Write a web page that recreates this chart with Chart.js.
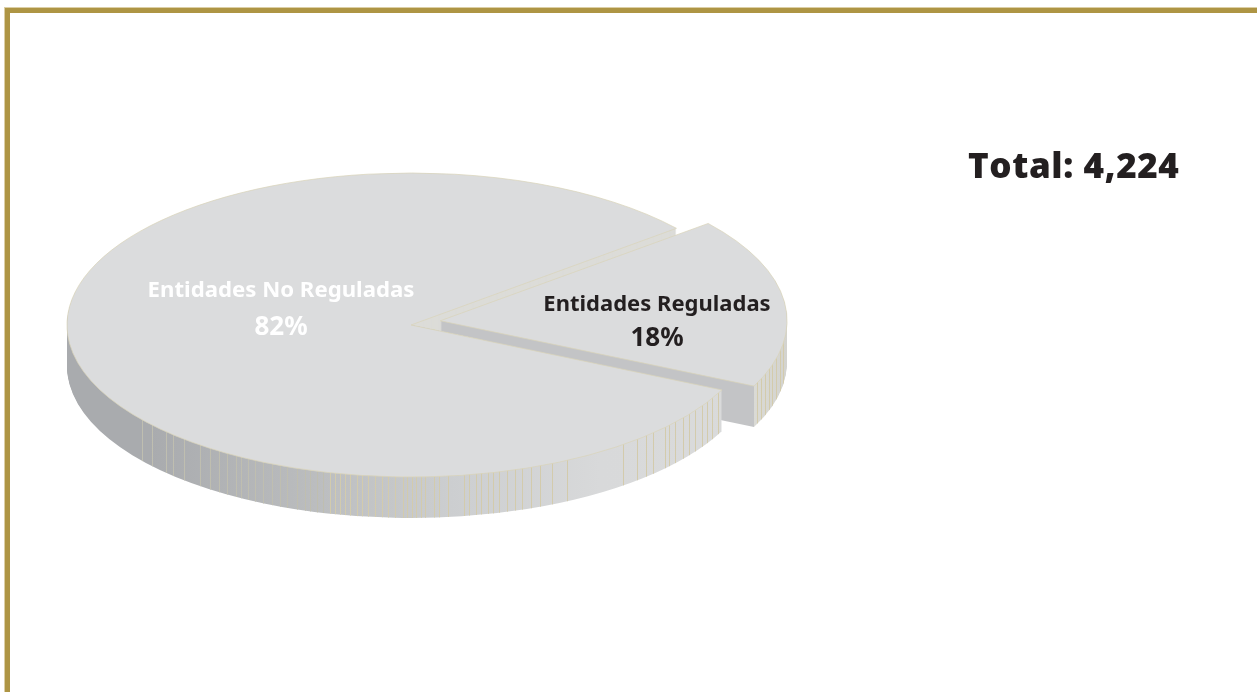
<!DOCTYPE html>
<html lang="es">
<head>
<meta charset="utf-8">
<title>Entidades</title>
<script src="https://cdn.jsdelivr.net/npm/chart.js@4"></script>
<style>
    html, body { margin: 0; padding: 0; background: #fff; }
    body { width: 1257px; height: 692px; position: relative; overflow: hidden; }
    #frame {
        position: absolute; left: 5px; top: 8px; right: -10px; bottom: -10px;
        border-left: 5px solid #ae9544; border-top: 5px solid #ae9544;
        box-shadow: -1px -1px 0 #dccfa6;
    }
    canvas { position: absolute; left: 0; top: 0; }
    .label {
        position: absolute; transform: translateX(-50%); white-space: nowrap;
        font-family: "Noto Sans", sans-serif; font-weight: 700; text-align: center;
    }
    .label span { display: block; font-size: 26px; }
    #total {
        position: absolute; left: 968px; top: 143px; white-space: nowrap; color: #231f20;
        font-family: "Open Sans", sans-serif; font-weight: 800; font-size: 35px; line-height: 44px;
        letter-spacing: 0.6px;
    }
</style>
</head>
<body>
<div id="frame"></div>
<canvas id="myChart" width="1257" height="692"></canvas>
<div id="total"></div>
<script>
const categories = ['Entidades Reguladas', 'Entidades No Reguladas'];
const values = [18, 82];
const totalValue = '4,224';

// where the flattened pie sits on the page
const CX = 411, CY = 325, RX = 344, RY = 152, DEPTH = 41;
// vertical seams of the rim (page x)
const seamsMain = [142, 152, 166, 173, 184, 200, 210, 219, 227, 236, 241, 248, 255, 263, 272, 280, 287, 297, 305, 310, 317, 323, 330, 335, 340, 345, 350, 357, 362, 368, 375, 382, 388, 395, 403,
    407, 412, 416, 421, 425, 434, 439, 448, 464, 469, 476, 481, 488, 493, 499, 507, 515, 522, 531, 540, 552, 567, 623, 637, 646, 653, 665, 669, 675, 683, 689, 695, 702, 707, 712, 718, 723];
const seamsSlice = [757, 761, 765, 769, 772, 776, 780, 783];

function rimFill(ctx, toX, stops) {
    const g = ctx.createLinearGradient(toX(67), 0, toX(787), 0);
    stops.forEach(([x, color]) => g.addColorStop((x - 67) / 720, color));
    return g;
}

function seamFill(ctx, toX, seams) {
    const g = ctx.createLinearGradient(toX(67), 0, toX(787), 0);
    seams.forEach((x) => {
        const color = x < 330 ? '#bfbeb0' : '#d3cbac';
        const a = (x - 67) / 720, b = (x + 0.8 - 67) / 720;
        g.addColorStop(a, 'rgba(212,204,170,0)');
        g.addColorStop(a, color);
        g.addColorStop(b, color);
        g.addColorStop(b, 'rgba(212,204,170,0)');
    });
    return g;
}

function drawArc(arc, ctx, fill, border) {
    const keep = arc.options;
    arc.options = border ? keep : Object.create(keep, {
        backgroundColor: { value: fill },
        borderWidth: { value: 0 }
    });
    arc.draw(ctx);
    arc.options = keep;
}

function stamps(arc, ctx, fill) {
    for (let d = DEPTH; d >= 1; d--) {
        ctx.save();
        ctx.translate(0, d / (RY / arc.outerRadius));
        drawArc(arc, ctx, fill);
        ctx.restore();
    }
}

const flatPie = {
    id: 'flatPie',
    beforeDatasetsDraw(chart) {
        const ctx = chart.ctx;
        const [slice, main] = chart.getDatasetMeta(0).data;
        const sx = RX / main.outerRadius, sy = RY / main.outerRadius;
        const mid = (slice.startAngle + slice.endAngle) / 2;
        const sliceDx = Math.cos(mid) * slice.options.offset / 4;
        const mainX = (x) => (x - CX) / sx + main.x;
        const sliceX = (x) => mainX(x) - sliceDx;
        const lowerCut = Math.atan2(sy * Math.sin(main.startAngle), sx * Math.cos(main.startAngle));

        const toPage = () => {
            ctx.translate(CX, CY);
            ctx.scale(sx, sy);
            ctx.translate(-main.x, -main.y);
        };
        const clipCut = (below) => {
            ctx.translate(CX, CY);
            ctx.rotate(lowerCut);
            ctx.beginPath();
            ctx.rect(-3000, below ? 0 : -3000, 6000, 3000);
            ctx.rotate(-lowerCut);
            ctx.translate(-CX, -CY);
            ctx.clip();
        };
        const nudge = () => ctx.translate(0, -2.6 / sy);

        // the cut of the main pie that faces the slice is plain
        ctx.save();
        clipCut(false);
        toPage();
        stamps(main, ctx, '#dcdcd8');
        ctx.restore();

        // slice walls
        ctx.save();
        toPage();
        nudge();
        stamps(slice, ctx, rimFill(ctx, sliceX, [[67, '#c3c4c6'], [754, '#c3c4c6'], [754, '#dadad5'], [787, '#d3d3cf']]));
        stamps(slice, ctx, seamFill(ctx, sliceX, seamsSlice));
        ctx.restore();

        // main pie rim
        ctx.save();
        clipCut(true);
        toPage();
        stamps(main, ctx, rimFill(ctx, mainX, [[67, '#a9abae'], [150, '#a9abae'], [300, '#b9bbbd'], [450, '#ccced0'], [600, '#d8d9da'], [787, '#dadbdb']]));
        stamps(main, ctx, seamFill(ctx, mainX, seamsMain));
        ctx.restore();

        // top faces
        ctx.save();
        toPage();
        ctx.save();
        nudge();
        drawArc(slice, ctx, null, true);
        ctx.restore();
        drawArc(main, ctx, null, true);
        ctx.restore();
    },
    beforeDatasetDraw() {
        return false;
    }
};

const ctx = document.getElementById('myChart');
let myChart = new Chart(ctx, {
    type: 'pie',
    data: {
        labels: categories,
        datasets: [{
            data: values,
            backgroundColor: '#dbdcdd',
            borderColor: '#d9d4ba',
            borderWidth: 1,
            offset: [118, 0]
        }]
    },
    options: {
        responsive: false,
        animation: false,
        rotation: 50.5,
        radius: RX,
        plugins: { legend: { display: false }, tooltip: { enabled: false } }
    },
    plugins: [flatPie]
});

// labels on top of the pie
const labelSpots = [
    { x: 657, y: 285, color: '#231f20', size: 22, line: 34 },
    { x: 281, y: 271, color: '#ffffff', size: 22.2, line: 36 }
];
categories.forEach((name, i) => {
    const el = document.createElement('div');
    const s = labelSpots[i];
    el.className = 'label';
    el.style.cssText = `left:${s.x}px;top:${s.y}px;color:${s.color};font-size:${s.size}px;line-height:${s.line}px`;
    el.innerHTML = `${name}<span>${values[i]}%</span>`;
    document.body.appendChild(el);
});
document.getElementById('total').textContent = `Total: ${totalValue}`;
</script>
</body>
</html>
